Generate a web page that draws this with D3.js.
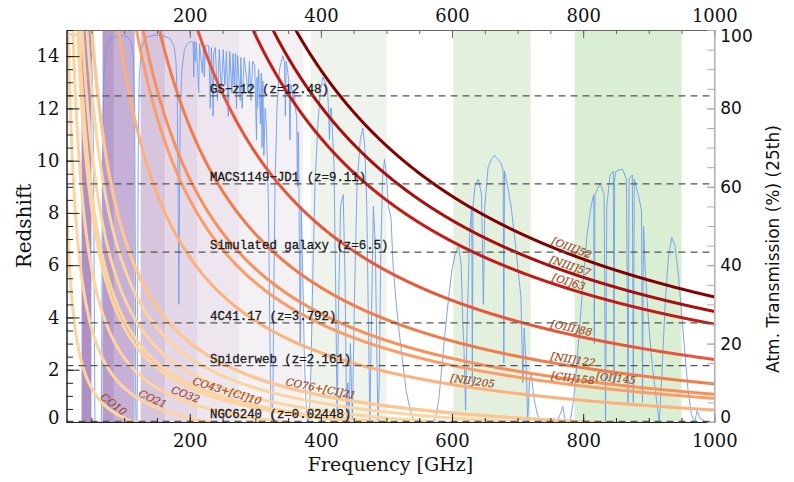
<!DOCTYPE html>
<html><head><meta charset="utf-8">
<script src="https://cdn.jsdelivr.net/npm/d3@7"></script>
<style>body{margin:0;background:#fff} svg{display:block}</style>
</head><body><svg id="c" width="794" height="482"></svg>
<script>
// ---------- data ----------
const freqTicks = [200, 400, 600, 800, 1000];
const zTicks = [0, 2, 4, 6, 8, 10, 12, 14];
const transTicks = [0, 20, 40, 60, 80, 100];

// ALMA bands (GHz)
const bandLo = [35, 67, 84, 125, 163, 211, 275, 385, 602, 787];
const bandHi = [50, 90, 116, 163, 211, 275, 373, 500, 720, 950];
const bandColors = ["#ae90c4", "#b79bc9", "#c6b0d5", "#d7c5de", "#e4d7e8", "#ede6ef", "#f4f1f5", "#eef3eb", "#e3f0dd", "#daeed3"];

// emission lines: rest frequency (GHz)
const lineNames = ["CO10", "CO21", "CO32", "CO43", "CI10", "CO54", "CO65", "CO76", "CI21", "NII205", "CII158", "OI145", "NII122", "OIII88", "OI63", "NIII57", "OIII52"];
const restFreqs = [115.27, 230.54, 345.80, 461.04, 492.16, 576.27, 691.47, 806.65, 809.34, 1461.13, 1900.54, 2060.07, 2459.38, 3393.01, 4744.78, 5230.43, 5785.88];
const lineColors = ["#fdd49e", "#fdd49e", "#fdd49e", "#fdd49e", "#fdd49e", "#fdd49e", "#fdd49e", "#fdc590", "#fdc590", "#fdb07a", "#fc9c66", "#fa8f5a", "#f37b4a", "#e8553a", "#c41b14", "#a80e0e", "#820000"];

// labels for lines: text, line index, label centre frequency
const labelTexts = ["CO10", "CO21", "CO32", "CO43+[CI]10", "CO76+[CI]21", "[NII]205", "[CII]158", "[OI]145", "[NII]122", "[OIII]88", "[OI]63", "[NIII]57", "[OIII]52"];
const labelLine = [0, 1, 2, 4, 8, 9, 10, 11, 12, 13, 14, 15, 16];
const labelFreq = [78, 139, 190, 254, 398, 630, 783, 849, 783, 780, 775, 777, 779];

// sources
const srcNames = ["GS\u2212z12 (z=12.48)", "MACS1149\u2212JD1 (z=9.11)", "Simulated galaxy (z=6.5)", "4C41.17 (z=3.792)", "Spiderweb (z=2.161)", "NGC6240 (z=0.02448)"];
const srcZ = [12.48, 9.11, 6.5, 3.792, 2.161, 0.02448];

// atmospheric transmission (25th percentile)
const atmFreq = [12,18,22,26,40,46,50,52,53.5,54.5,55.2,55.5,65,65.5,66.2,67,69,72,80,95,105,111,114,116,117,117.6,118,119.5,120,120.7,121.5,123,126,132,145,160,170,176,179,181,182.4,183.3,184.2,185.6,188,192,196,200,
 205,206.1,207,208.6,210,213.6,215,219.2,221,222.1,224,229,231.3,233,235.7,236.5,239,242.3,245,248.2,251,253.5,256,258.7,261,264.4,266,267.6,270,271.2,273,276.9,278,279.9,283,288.9,291,293.2,296,299,301.8,302.6,303.4,305,307.7,309,310.2,311.5,313,315,
 317,320,322,323.5,325.2,326.8,328,330,333,337,342,344.5,345.8,347,349,351.5,352.8,354,355,357.9,359.5,361,363,364.3,365.5,366,368.5,370,372,375,378,380.2,382.5,385,388,391,395,399,403,406,408,410,411.5,413,414.5,416,420,422.5,424.8,427,430,434,437,439.2,441,443,445,448,451,455,460,464,467,470,472.5,474.7,477,480,483,485.5,487.2,489,491,494,497,500,503,507,510,515,520,525,530,535,540,545,
 572,576,580,585,590,595,600,605,610,614,616.5,618,620.7,623,627,630,631,632,635,640,645,647.8,650,655,660,665,670,675,678,679,680,685,690,695,700,705,708,710,713,715.4,718,721,725,730,735,760,765,769,773,780,785,790,795,800,806,812,816,817,818,826,832,834.1,836,841,846,847,848,850,860,866,868.5,870,875,876.5,878,884,889,890.5,892,895,900,905,910,916,920,925,930,935,940,945,950,955,960,965,970,974,978,987,1000];
const atmTrans = [99.2,99,98.2,98.8,98.5,97.5,94,85,60,25,3,0,0,5,40,70,88,95,98,98.6,98.2,97,93,80,40,5,0,0,8,40,70,88,95,98,98.7,98.5,97.8,96,92,82,55,30,55,80,90,95,96.5,97,
 97,88,97,92,97,84,96.5,89,96.5,88,96,96,80,95.5,78,94,95.5,82,95,84,95,86,94.5,78,94.5,84,94,86,94,80,93.5,82,93,80,93,84,92,82,92,91,72,88,80,90,76,89,70,87,68,80,
 75,55,25,5,0,5,30,60,80,90,93.5,92,78,92,90,86,72,86,86,82,84,80,78,60,74,70,20,55,40,15,2,0,2,15,40,60,75,84,88,87,86,85,80,72,80,80,65,35,0,30,55,58,35,0,10,0,20,0,30,60,72,75,70,55,25,0,25,55,45,15,0,10,40,62,67,63,55,52,40,30,22,15,8,4,1,0,
 0,2,6,15,24,32,39,43,45,40,25,20,3,25,48,55,10,55,60,62,58,30,55,65,67,68,67,66,64,15,64,60,55,48,40,32,10,24,15,0,10,12,6,2,0,0,2,4,0,0,5,14,25,36,48,55,58,20,58,61,58,0,55,63,64,10,62,64,64.5,62,5,62,63,5,62,58,54,5,50,38,25,15,8,0,12,30,42,47,45,38,28,18,8,2,0,3,1,0,0];

// ---------- layout ----------
const L = 66.5, R = 714.3, T = 30, B = 422;
const svg = d3.select("#c");
const x = d3.scaleLinear().domain([12, 1000]).range([L, R]);
const y = d3.scaleLinear().domain([0, 15]).range([B, T]);
const yT = d3.scaleLinear().domain([0, 100]).range([B, T]);

svg.append("defs").append("clipPath").attr("id", "clip")
  .append("rect").attr("x", L).attr("y", T).attr("width", R - L).attr("height", B - T);

const plot = svg.append("g").attr("clip-path", "url(#clip)");

// bands
plot.selectAll("rect.band").data(bandLo).enter().append("rect")
  .attr("class", "band")
  .attr("x", (d) => x(d))
  .attr("width", (d, i) => x(bandHi[i]) - x(d))
  .attr("y", T).attr("height", B - T)
  .attr("fill", (d, i) => bandColors[i]);

// atmospheric transmission
const atm = atmFreq.map((f, i) => [f, atmTrans[i]]);
plot.append("path").datum(atm)
  .attr("d", d3.line().x((d) => x(d[0])).y((d) => yT(d[1])))
  .attr("fill", "none").attr("stroke", "#6d9cf0").attr("stroke-width", 0.9);

// redshift tracks
const fGrid = d3.range(12, 1000.5, 0.5);
restFreqs.forEach((nu0, i) => {
  const pts = fGrid.map((f) => [f, nu0 / f - 1]).filter((p) => p[1] > -0.5 && p[1] < 17);
  plot.append("path").datum(pts)
    .attr("d", d3.line().x((d) => x(d[0])).y((d) => y(d[1])))
    .attr("fill", "none").attr("stroke", lineColors[i]).attr("stroke-width", 3);
});

// source lines
plot.selectAll("line.src").data(srcZ).enter().append("line")
  .attr("x1", L).attr("x2", R)
  .attr("y1", (d) => y(d)).attr("y2", (d) => y(d))
  .attr("stroke", "#555").attr("stroke-width", 1.2).attr("stroke-dasharray", "7,5");
svg.selectAll("text.src").data(srcZ).enter().append("text")
  .attr("x", 210).attr("y", (d) => y(d) - 3)
  .attr("font-family", "Liberation Mono, monospace").attr("font-size", 12.4)
  .attr("fill", "#1a1a1a").attr("stroke", "#1a1a1a").attr("stroke-width", 0.3)
  .text((d, i) => srcNames[i]);

// line labels
labelTexts.forEach((t, k) => {
  const nu0 = restFreqs[labelLine[k]];
  const f = labelFreq[k];
  const px = x(f), py = y(nu0 / f - 1);
  const dx = x(f + 2) - x(f - 2), dy = y(nu0 / (f + 2) - 1) - y(nu0 / (f - 2) - 1);
  const a = Math.atan2(dy, dx);
  const off = 3;
  const cx = px + Math.sin(a) * off, cy = py - Math.cos(a) * off;
  svg.append("text")
    .attr("transform", `translate(${cx},${cy}) rotate(${a * 180 / Math.PI})`)
    .attr("text-anchor", "middle")
    .attr("font-family", "DejaVu Serif, serif").attr("font-style", "italic")
    .attr("font-size", 10.3).attr("fill", "#a0481c").attr("stroke", "#a0481c").attr("stroke-width", 0.2)
    .text(t);
});

// ---------- axes ----------
const serif = "DejaVu Serif, serif";
const fmt = d3.format("d");
function styleAxis(g, font, size, col) {
  g.select(".domain").attr("stroke", col);
  g.selectAll(".tick line").attr("stroke", col);
  g.selectAll(".tick text").attr("font-family", font).attr("font-size", size).attr("fill", "#111");
}
const minorF = d3.range(50, 1001, 50);
const minorZ = d3.range(0.5, 15.01, 0.5);
const minorT = d3.range(5, 100.1, 5);

const gb = svg.append("g").attr("transform", `translate(0,${B})`)
  .call(d3.axisBottom(x).tickValues(freqTicks).tickFormat(fmt).tickSize(-8).tickPadding(12).tickSizeOuter(0));
styleAxis(gb, serif, 18, "#222");
svg.append("g").attr("transform", `translate(0,${B})`)
  .call(d3.axisBottom(x).tickValues(minorF).tickSize(-4).tickFormat("").tickSizeOuter(0))
  .call((g) => g.selectAll("line,path").attr("stroke", "#222"));

const gt = svg.append("g").attr("transform", `translate(0,${T})`)
  .call(d3.axisTop(x).tickValues(freqTicks).tickFormat(fmt).tickSize(-8).tickPadding(8).tickSizeOuter(0));
styleAxis(gt, serif, 18, "#666");
svg.append("g").attr("transform", `translate(0,${T})`)
  .call(d3.axisTop(x).tickValues(minorF).tickSize(-4).tickFormat("").tickSizeOuter(0))
  .call((g) => g.selectAll("line,path").attr("stroke", "#666"));

const gl = svg.append("g").attr("transform", `translate(${L},0)`)
  .call(d3.axisLeft(y).tickValues(zTicks).tickFormat(fmt).tickSize(-13).tickPadding(7).tickSizeOuter(0));
styleAxis(gl, serif, 18, "#222");
gl.selectAll(".tick text").attr("dy", (d) => d === 0 ? "0.1em" : "0.32em");
svg.append("g").attr("transform", `translate(${L},0)`)
  .call(d3.axisLeft(y).tickValues(minorZ).tickSize(-6.5).tickFormat("").tickSizeOuter(0))
  .call((g) => g.selectAll("line,path").attr("stroke", "#222"));

const gr = svg.append("g").attr("transform", `translate(${R},0)`)
  .call(d3.axisRight(yT).tickValues(transTicks).tickFormat(fmt).tickSize(-7).tickPadding(6).tickSizeOuter(0));
styleAxis(gr, "DejaVu Sans, sans-serif", 17, "#aaa");
gr.selectAll(".tick text").attr("fill", "#111").attr("dy", (d) => d === 0 ? "0.0em" : d === 100 ? "0.7em" : "0.32em");
svg.append("g").attr("transform", `translate(${R},0)`)
  .call(d3.axisRight(yT).tickValues(minorT).tickSize(-7).tickFormat("").tickSizeOuter(0))
  .call((g) => g.selectAll("line,path").attr("stroke", "#aaa"));

// titles
svg.append("text").attr("x", (L + R) / 2).attr("y", 471)
  .attr("text-anchor", "middle").attr("font-family", serif).attr("font-size", 19)
  .attr("fill", "#111").text("Frequency [GHz]");
svg.append("text").attr("transform", `translate(31,${(T + B) / 2}) rotate(-90)`)
  .attr("text-anchor", "middle").attr("font-family", serif).attr("font-size", 20)
  .attr("fill", "#111").text("Redshift");
svg.append("text").attr("transform", `translate(779,249) rotate(-90)`)
  .attr("text-anchor", "middle").attr("font-family", "DejaVu Sans, sans-serif").attr("font-size", 17)
  .attr("fill", "#111").text("Atm. Transmission (%) (25th)");
</script></body></html>
